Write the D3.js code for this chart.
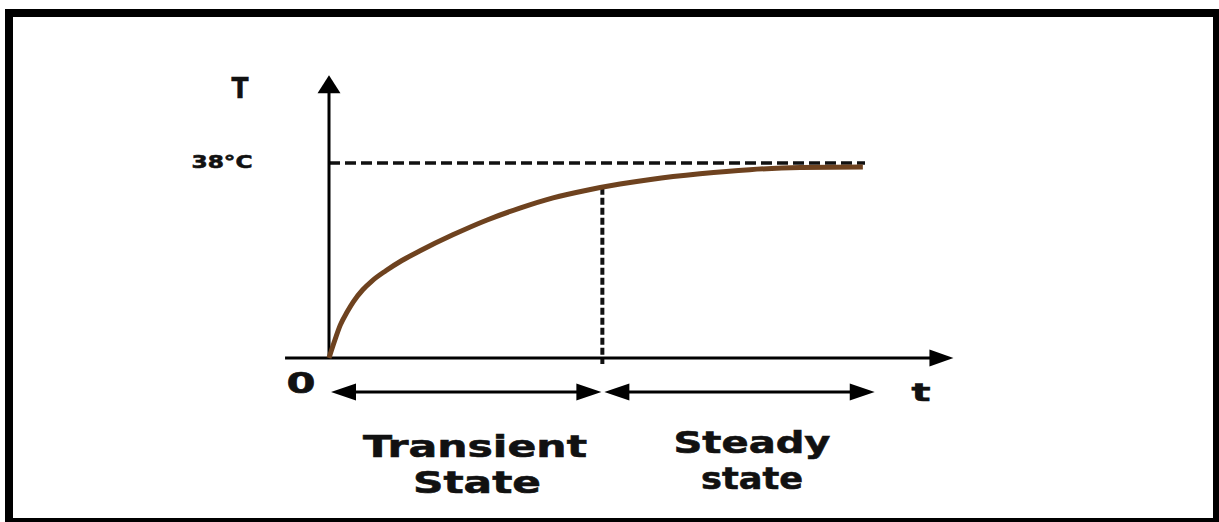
<!DOCTYPE html>
<html>
<head>
<meta charset="utf-8">
<script src="https://d3js.org/d3.v7.min.js"></script>
<style>
    body { margin: 0; background: #fff; }
    svg { display: block; }
    text { font-family: "DejaVu Sans", Verdana, sans-serif; font-weight: bold; fill: #111; stroke: #111; stroke-width: 0.6; }
</style>
</head>
<body>
<svg id="chart" width="1219" height="522"></svg>
<script>
// heating curve (time in arbitrary units, T in °C)
const timeVals = [0, 1.1, 2.1, 3.4, 4.5, 6.3, 8.0, 10.6, 13.6, 17.0, 23.1, 29.5, 35.6, 41.8, 48.1, 54.3, 60, 69.2, 78.5, 87.9, 99.6];
const tempVals = [0, 3.5, 6.4, 9.0, 10.9, 13.3, 15.0, 17.0, 19.0, 20.9, 24.0, 26.9, 29.2, 31.2, 32.7, 33.9, 34.8, 35.9, 36.7, 37.1, 37.2];

const finalTemp = 38;
const finalTempLabel = "38°C";
const steadyStart = 51;      // time where the steady state begins
const steadyEnd = 102;
const axisTimeRange = [-8.2, 116.5];
const axisTempTop = 55.1;

const svg = d3.select('#chart');

// outer frame
svg.append('rect')
    .attr('x', 9).attr('y', 13)
    .attr('width', 1208).attr('height', 509)
    .attr('fill', 'none')
    .attr('stroke', '#000')
    .attr('stroke-width', 8);

let x = d3.scaleLinear().domain([0, 100]).range([329, 865]);
let y = d3.scaleLinear().domain([0, finalTemp]).range([358, 163]);

function head(tx, ty, dir, len, half) {
    // dir: 'r', 'l', 'u'
    let pts;
    if (dir === 'r') pts = [[tx, ty], [tx - len, ty - half], [tx - len, ty + half]];
    if (dir === 'l') pts = [[tx, ty], [tx + len, ty - half], [tx + len, ty + half]];
    if (dir === 'u') pts = [[tx, ty], [tx - half, ty + len], [tx + half, ty + len]];
    svg.append('path').attr('d', 'M' + pts.join('L') + 'Z').attr('fill', '#000');
}

// dashed guides
svg.append('line')
    .attr('x1', x(0)).attr('x2', x(100))
    .attr('y1', y(finalTemp)).attr('y2', y(finalTemp))
    .attr('stroke', '#111').attr('stroke-width', 3.5)
    .attr('stroke-dasharray', '11 5');

svg.append('line')
    .attr('x1', x(steadyStart)).attr('x2', x(steadyStart))
    .attr('y1', y(33.2)).attr('y2', y(0) + 6)
    .attr('stroke', '#111').attr('stroke-width', 4)
    .attr('stroke-dasharray', '7 3');

// axes
svg.append('line')
    .attr('x1', x(axisTimeRange[0])).attr('x2', x(axisTimeRange[1]) - 20)
    .attr('y1', y(0)).attr('y2', y(0))
    .attr('stroke', '#000').attr('stroke-width', 3);
head(x(axisTimeRange[1]), y(0), 'r', 24, 8.5);

svg.append('line')
    .attr('x1', x(0)).attr('x2', x(0))
    .attr('y1', y(0) + 1).attr('y2', y(axisTempTop) + 15)
    .attr('stroke', '#000').attr('stroke-width', 3);
head(x(0), y(axisTempTop), 'u', 18, 11.5);

// curve
let curve = timeVals.map((t, i) => [t, tempVals[i]]);
svg.append('path')
    .datum(curve)
    .attr('fill', 'none')
    .attr('stroke', '#6e421f')
    .attr('stroke-width', 5)
    .attr('stroke-linecap', 'butt')
    .attr('d', d3.line().x(d => x(d[0])).y(d => y(d[1])).curve(d3.curveMonotoneX));

// state arrows
let ay = y(0) + 34;
[[0, steadyStart], [steadyStart, steadyEnd]].forEach(s => {
    let a = x(s[0]) + 2, b = x(s[1]) - 1;
    svg.append('line')
        .attr('x1', a + 20).attr('x2', b - 20)
        .attr('y1', ay).attr('y2', ay)
        .attr('stroke', '#000').attr('stroke-width', 3);
    head(a, ay, 'l', 25, 8.5);
    head(b, ay, 'r', 25, 8.5);
});

// labels
function label(txt, cx, by, size, w) {
    svg.append('text')
        .attr('x', cx - w / 2).attr('y', by)
        .attr('font-size', size)
        .attr('textLength', w)
        .attr('lengthAdjust', 'spacingAndGlyphs')
        .text(txt);
}

label('T', 240, 98, 29, 17);
label(finalTempLabel, 222, 168, 18, 61);
label('0', 301, 393, 29, 29);
label('t', 921, 401, 25, 19);
label('Transient', 475, 457, 31, 224);
label('State', 477, 493, 31, 128);
label('Steady', 752, 453, 31, 157);
label('state', 752, 489, 31, 102);
</script>
</body>
</html>
